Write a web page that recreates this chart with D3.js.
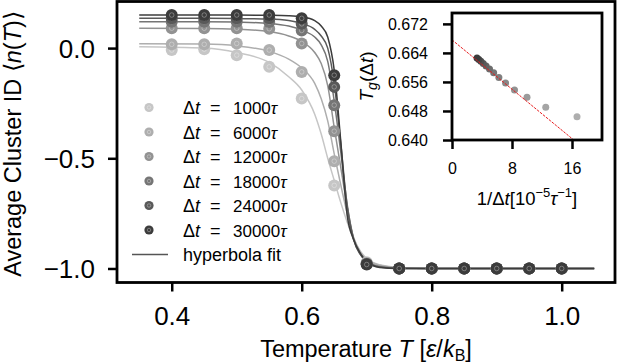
<!DOCTYPE html>
<html><head><meta charset="utf-8">
<script src="https://cdn.jsdelivr.net/npm/d3@7"></script>
<style>
body{margin:0;background:#fff}
svg{display:block}
text{font-family:"Liberation Sans",Arial,sans-serif;fill:#000}
</style>
</head><body>
<svg id="c" width="620" height="364"></svg>
<script>
// ---------------- data ----------------
const dtSeries = [1000, 6000, 12000, 18000, 24000, 30000];
const tPoints = [0.40, 0.45, 0.50, 0.55, 0.60, 0.65, 0.70, 0.75, 0.80, 0.85, 0.90, 0.95, 1.00];
const n1000  = [-0.009, -0.005, -0.032, -0.085, -0.229, -0.623, -0.972, -1, -1, -1, -1, -1, -1];
const n6000  = [0.017, 0.017, 0.021, -0.009, -0.108, -0.513, -0.975, -1, -1, -1, -1, -1, -1];
const n12000 = [0.090, 0.090, 0.090, 0.088, 0.021, -0.377, -0.978, -1, -1, -1, -1, -1, -1];
const n18000 = [0.120, 0.120, 0.120, 0.118, 0.080, -0.259, -0.980, -1, -1, -1, -1, -1, -1];
const n24000 = [0.135, 0.135, 0.135, 0.135, 0.110, -0.176, -0.980, -1, -1, -1, -1, -1, -1];
const n30000 = [0.150, 0.150, 0.150, 0.150, 0.135, -0.123, -0.982, -1, -1, -1, -1, -1, -1];

const tFit = [0.35, 0.45, 0.50, 0.55, 0.58, 0.60, 0.62, 0.63, 0.64, 0.65, 0.66, 0.67, 0.68, 0.69, 0.70, 0.72, 0.75, 0.80, 1.05];
const fit1000  = [0.006, 0.000, -0.020, -0.065, -0.130, -0.190, -0.300, -0.390, -0.500, -0.600, -0.700, -0.790, -0.865, -0.920, -0.955, -0.983, -0.995, -1.0, -1.0];
const fit6000  = [0.020, 0.018, 0.010, -0.015, -0.050, -0.090, -0.160, -0.230, -0.330, -0.480, -0.620, -0.750, -0.860, -0.925, -0.960, -0.985, -0.996, -1.0, -1.0];
const fit12000 = [0.090, 0.089, 0.086, 0.075, 0.055, 0.030, -0.020, -0.070, -0.170, -0.360, -0.540, -0.720, -0.865, -0.930, -0.965, -0.990, -0.998, -1.0, -1.0];
const fit18000 = [0.120, 0.120, 0.118, 0.112, 0.100, 0.082, 0.050, 0.015, -0.060, -0.240, -0.470, -0.710, -0.870, -0.935, -0.970, -0.992, -0.999, -1.0, -1.0];
const fit24000 = [0.135, 0.135, 0.134, 0.132, 0.125, 0.112, 0.085, 0.055, 0.000, -0.160, -0.430, -0.720, -0.870, -0.935, -0.970, -0.993, -1.0, -1.0, -1.0];
const fit30000 = [0.150, 0.150, 0.150, 0.149, 0.147, 0.142, 0.125, 0.100, 0.050, -0.100, -0.420, -0.760, -0.870, -0.930, -0.970, -0.995, -1.0, -1.0, -1.0];

const xTicks = [0.4, 0.6, 0.8, 1.0];
const yTicks = [-1.0, -0.5, 0.0];

// inset
const dtInset = [6000, 8000, 10000, 12000, 14000, 16000, 18000, 20000, 22000, 24000, 26000, 28000, 30000];
const tgInset = [0.6464, 0.6490, 0.6518, 0.6538, 0.6557, 0.6572, 0.6585, 0.6596, 0.6604, 0.6611, 0.6617, 0.6622, 0.6626];
const tgLineX = [0, 20];
const tgLineY = [0.6676, 0.6336];
const insetXTicks = [0, 8, 16];
const insetYTicks = [0.640, 0.648, 0.656, 0.664, 0.672];

const legendLabels = ["1000", "6000", "12000", "18000", "24000", "30000"];

// ---------------- drawing ----------------
const pointSets = [n1000, n6000, n12000, n18000, n24000, n30000];
const fitSets = [fit1000, fit6000, fit12000, fit18000, fit24000, fit30000];

const svg = d3.select("#c");
const color = d3.scaleLinear().domain([1000, 30000]).range(["#c6c6c6", "#3c3c3c"]);

const L = 117, R = 615, Tp = 1.5, B = 282.5;
const x = d3.scaleLinear().domain([0.3158, 1.082]).range([L, R]);
const y = d3.scaleLinear().domain([-1.0636, 0.2114]).range([B, Tp]);

const gMain = svg.append("g");
svg.append("clipPath").attr("id", "mclip").append("rect")
  .attr("x", L).attr("y", Tp).attr("width", R - L).attr("height", B - Tp);
const plot = gMain.append("g").attr("clip-path", "url(#mclip)");

const line = d3.line().x(d => x(d[0])).y(d => y(d[1])).curve(d3.curveMonotoneX);

dtSeries.forEach((dt, i) => {
  plot.append("path")
    .datum(tFit.map((t, j) => [t, fitSets[i][j]]))
    .attr("d", line).attr("fill", "none")
    .attr("stroke", color(dt)).attr("stroke-width", 1.5);
});
function marker(g, cx, cy, r, c) {
  g.append("circle").attr("cx", cx).attr("cy", cy).attr("r", r).attr("fill", c);
  g.append("circle").attr("cx", cx).attr("cy", cy).attr("r", r * 0.38)
    .attr("fill", "none").attr("stroke", "rgba(255,255,255,0.35)").attr("stroke-width", 0.9);
}
dtSeries.forEach((dt, i) => {
  tPoints.forEach((t, j) => marker(plot, x(t), y(pointSets[i][j]), 6, color(dt)));
});

// axes
const xAxis = gMain.append("g").attr("transform", `translate(0,${B})`)
  .call(d3.axisBottom(x).tickValues(xTicks).tickSize(9).tickPadding(15).tickFormat(d3.format(".1f")));
const yAxis = gMain.append("g").attr("transform", `translate(${L},0)`)
  .call(d3.axisLeft(y).tickValues(yTicks).tickSize(9).tickPadding(13).tickFormat(d3.format(".1f")));
[xAxis, yAxis].forEach(a => {
  a.select(".domain").remove();
  a.selectAll(".tick line").attr("stroke", "#000").attr("stroke-width", 2.5);
  a.selectAll(".tick text").attr("font-size", 26).attr("fill", "#000")
    .style("font-family", '"Liberation Sans",Arial,sans-serif');
});
yAxis.selectAll(".tick text").attr("dy", "0.36em");

gMain.append("rect").attr("x", L).attr("y", Tp).attr("width", R - L).attr("height", B - Tp)
  .attr("fill", "none").attr("stroke", "#000").attr("stroke-width", 2.8);

// axis labels
const xl = svg.append("text").attr("x", (L + R) / 2).attr("y", 357)
  .attr("text-anchor", "middle").attr("font-size", 23.5);
xl.append("tspan").text("Temperature ");
xl.append("tspan").attr("font-style", "italic").text("T");
xl.append("tspan").text("  [");
xl.append("tspan").attr("font-style", "italic").text("ε");
xl.append("tspan").text("/");
xl.append("tspan").attr("font-style", "italic").text("k");
xl.append("tspan").attr("font-size", 16).attr("dy", 4).text("B");
xl.append("tspan").attr("dy", -4).text("]");

const yl = svg.append("text").attr("transform", "translate(21,144) rotate(-90)")
  .attr("text-anchor", "middle").attr("font-size", 23.5);
yl.append("tspan").text("Average Cluster ID ");
yl.append("tspan").text("⟨");
yl.append("tspan").attr("font-style", "italic").text("n");
yl.append("tspan").text("(");
yl.append("tspan").attr("font-style", "italic").text("T");
yl.append("tspan").text(")⟩");

// legend
const lg = svg.append("g");
const legY0 = 107.5, legDy = 24.5;
dtSeries.forEach((dt, i) => {
  const yy = legY0 + i * legDy;
  marker(lg, 149, yy, 4.6, color(dt));
  const t1 = lg.append("text").attr("x", 183).attr("y", yy + 6.5).attr("font-size", 18);
  t1.append("tspan").text("Δ");
  t1.append("tspan").attr("font-style", "italic").text("t");
  lg.append("text").attr("x", 210).attr("y", yy + 6.5).attr("font-size", 18).text("=");
  const t2 = lg.append("text").attr("x", 233).attr("y", yy + 6.5).attr("font-size", 17);
  t2.append("tspan").text(legendLabels[i]);
  t2.append("tspan").attr("font-style", "italic").text("τ");
});
{
  const yy = legY0 + 6 * legDy;
  lg.append("line").attr("x1", 132).attr("x2", 168).attr("y1", yy).attr("y2", yy)
    .attr("stroke", "#555").attr("stroke-width", 1.5);
  lg.append("text").attr("x", 183).attr("y", yy + 6).attr("font-size", 18).text("hyperbola fit");
}

// ---------------- inset ----------------
const iL = 452, iR = 602, iT = 13, iB = 140;
const x2 = d3.scaleLinear().domain([0, 20]).range([iL, iR]);
const y2 = d3.scaleLinear().domain([0.640, 0.675]).range([iB, iT]);
const gi = svg.append("g");
gi.append("rect").attr("x", iL).attr("y", iT).attr("width", iR - iL).attr("height", iB - iT).attr("fill", "#fff");
svg.append("clipPath").attr("id", "iclip").append("rect")
  .attr("x", iL).attr("y", iT).attr("width", iR - iL).attr("height", iB - iT);
const ip = gi.append("g").attr("clip-path", "url(#iclip)");
dtInset.forEach((dt, i) => {
  ip.append("circle").attr("cx", x2(1e5 / dt)).attr("cy", y2(tgInset[i])).attr("r", 3.5)
    .attr("fill", color(dt));
});
ip.append("path").datum(tgLineX.map((v, i) => [v, tgLineY[i]]))
  .attr("d", d3.line().x(d => x2(d[0])).y(d => y2(d[1])))
  .attr("fill", "none").attr("stroke", "#e8191b").attr("stroke-width", 1)
  .attr("stroke-dasharray", "2.6,1.2");

const ix = gi.append("g").attr("transform", `translate(0,${iB})`)
  .call(d3.axisBottom(x2).tickValues(insetXTicks).tickSize(9).tickPadding(14).tickFormat(d3.format("d")));
const iy = gi.append("g").attr("transform", `translate(${iL},0)`)
  .call(d3.axisLeft(y2).tickValues(insetYTicks).tickSize(9).tickPadding(15).tickFormat(d3.format(".3f")));
[ix, iy].forEach(a => {
  a.select(".domain").remove();
  a.selectAll(".tick line").attr("stroke", "#000").attr("stroke-width", 2.5);
  a.selectAll(".tick text").attr("font-size", 16).attr("fill", "#000")
    .style("font-family", '"Liberation Sans",Arial,sans-serif');
});
iy.selectAll(".tick text").attr("dy", "0.36em");
gi.append("rect").attr("x", iL).attr("y", iT).attr("width", iR - iL).attr("height", iB - iT)
  .attr("fill", "none").attr("stroke", "#000").attr("stroke-width", 2.8);

const iyl = svg.append("text").attr("transform", `translate(373,${(iT + iB) / 2}) rotate(-90)`)
  .attr("text-anchor", "middle").attr("font-size", 19);
iyl.append("tspan").attr("font-style", "italic").text("T");
iyl.append("tspan").attr("font-style", "italic").attr("font-size", 14).attr("dy", 4).text("g");
iyl.append("tspan").attr("dy", -4).text("(Δ");
iyl.append("tspan").attr("font-style", "italic").text("t");
iyl.append("tspan").text(")");

const ixl = svg.append("text").attr("x", (iL + iR) / 2).attr("y", 205)
  .attr("text-anchor", "middle").attr("font-size", 18.5);
ixl.append("tspan").text("1/Δ");
ixl.append("tspan").attr("font-style", "italic").text("t");
ixl.append("tspan").text("[10");
ixl.append("tspan").attr("font-size", 13).attr("dy", -8).text("−5");
ixl.append("tspan").attr("dy", 8).attr("font-style", "italic").text("τ");
ixl.append("tspan").attr("font-size", 13).attr("dy", -8).text("−1");
ixl.append("tspan").attr("dy", 8).text("]");
</script>
</body></html>
